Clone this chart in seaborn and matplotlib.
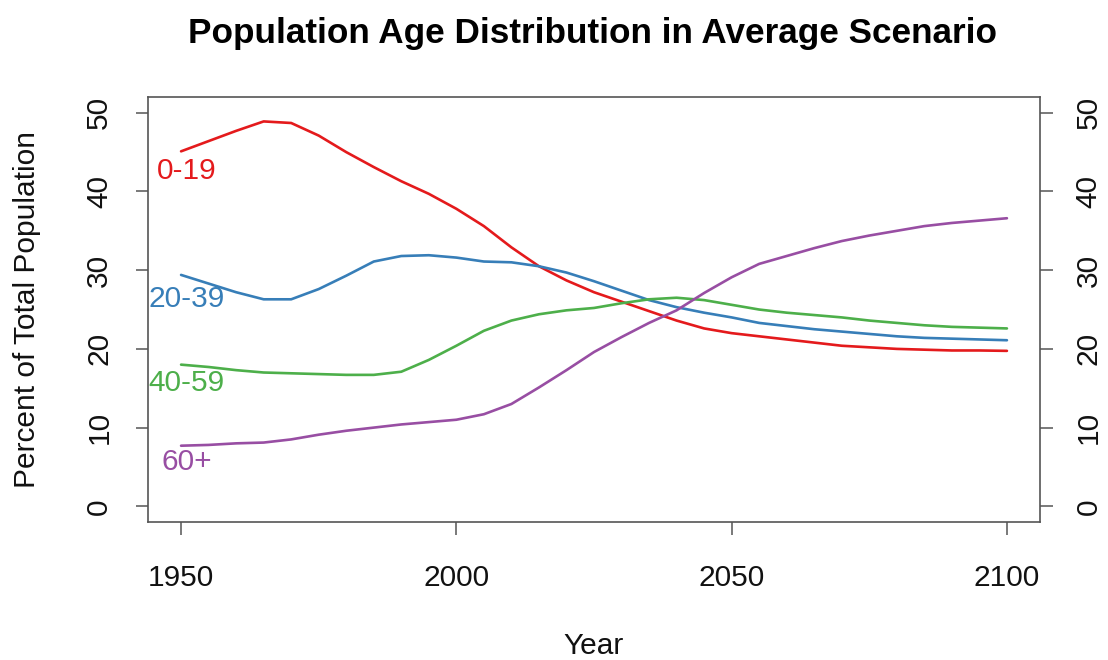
import pandas as pd
import matplotlib.pyplot as plt
import seaborn as sns

# --- data (percent of total population) ---
years = list(range(1950, 2101, 5))

age_0_19 = [45.1, 46.4, 47.7, 48.9, 48.7, 47.1, 45.0, 43.1, 41.3, 39.7,
            37.8, 35.6, 32.9, 30.5, 28.7, 27.2, 26.0, 24.8, 23.6, 22.6,
            22.0, 21.6, 21.2, 20.8, 20.4, 20.2, 20.0, 19.9, 19.8, 19.8, 19.75]
age_20_39 = [29.4, 28.3, 27.2, 26.3, 26.3, 27.6, 29.3, 31.1, 31.8, 31.9,
             31.6, 31.1, 31.0, 30.5, 29.7, 28.6, 27.4, 26.2, 25.3, 24.6,
             24.0, 23.3, 22.9, 22.5, 22.2, 21.9, 21.6, 21.4, 21.3, 21.2, 21.1]
age_40_59 = [18.0, 17.7, 17.3, 17.0, 16.9, 16.8, 16.7, 16.7, 17.1, 18.6,
             20.4, 22.3, 23.6, 24.4, 24.9, 25.2, 25.8, 26.3, 26.5, 26.2,
             25.6, 25.0, 24.6, 24.3, 24.0, 23.6, 23.3, 23.0, 22.8, 22.7, 22.6]
age_60_plus = [7.7, 7.8, 8.0, 8.1, 8.5, 9.1, 9.6, 10.0, 10.4, 10.7,
               11.0, 11.7, 13.0, 15.1, 17.3, 19.6, 21.5, 23.3, 24.9, 27.1,
               29.1, 30.8, 31.8, 32.8, 33.7, 34.4, 35.0, 35.6, 36.0, 36.3, 36.6]

groups = ['0-19', '20-39', '40-59', '60+']
label_y = [42.6, 26.3, 15.7, 5.6]   # where the group names sit next to the lines
colors = ['#E41A1C', '#377EB8', '#4DAF4A', '#984EA3']

x_ticks = [1950, 2000, 2050, 2100]
y_ticks = [0, 10, 20, 30, 40, 50]

df = pd.DataFrame({'year': years * 4,
                   'group': sum([[g] * len(years) for g in groups], []),
                   'pct': age_0_19 + age_20_39 + age_40_59 + age_60_plus})

sns.set_style('white')
plt.rcParams['font.family'] = ['Liberation Sans', 'DejaVu Sans']

fig = plt.figure(figsize=(11.08, 6.6), dpi=100)
ax = fig.add_axes([0.1336, 0.209, 0.805, 0.644])

sns.lineplot(data=df, x='year', y='pct', hue='group', hue_order=groups,
             palette=dict(zip(groups, colors)), linewidth=1.9, legend=False, ax=ax)

# group names written at the start of each line
for g, yy, c in zip(groups, label_y, colors):
    ax.text(years[0] + 1, yy, g, color=c, fontsize=21.5, ha='center', va='center')

ax.set_xlim(1944, 2106)
ax.set_ylim(-2, 52)
ax.set_xticks(x_ticks)
ax.set_yticks(y_ticks)

for s in ax.spines.values():
    s.set_visible(True)
    s.set_color('#555555')
    s.set_linewidth(1.2)

ax.tick_params(axis='both', direction='out', length=9, width=1.1, color='#555555',
               labelsize=21.5, labelcolor='#111111')
ax.tick_params(axis='x', bottom=True, pad=21)
ax.tick_params(axis='y', left=True, right=True, labelright=True, labelrotation=90, pad=16)
for t in ax.yaxis.get_major_ticks():
    t.label1.set_va('center')
    t.label2.set_va('center')

ax.set_xlabel('Year', fontsize=21.5, labelpad=29, color='#111111')
ax.set_ylabel('Percent of Total Population', fontsize=21.5, labelpad=32, color='#111111')
fig.suptitle('Population Age Distribution in Average Scenario', fontsize=25.3,
             fontweight='bold', y=0.975, x=0.535, color='black')

fig.savefig('out.png', dpi=100, facecolor='white')
